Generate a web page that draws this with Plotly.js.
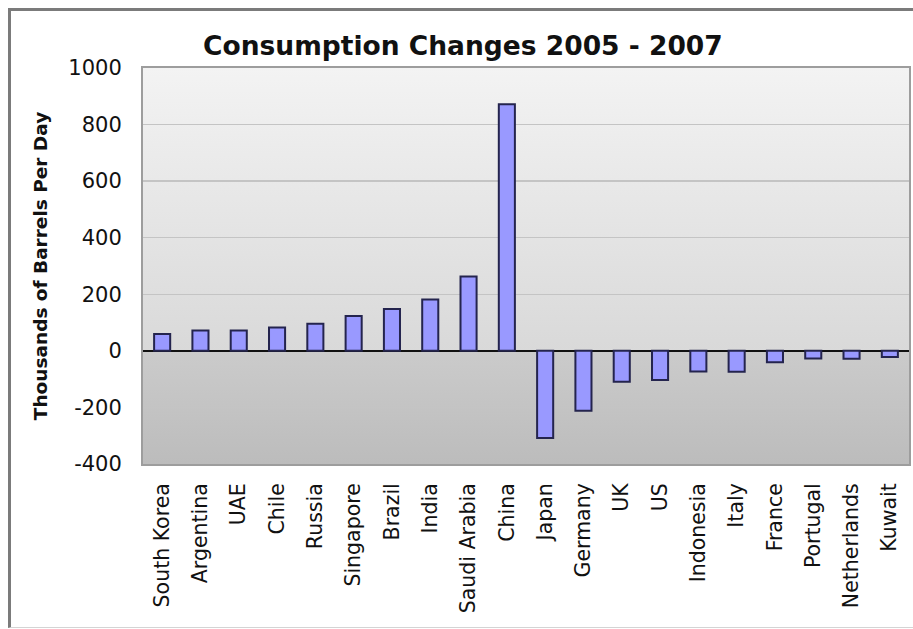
<!DOCTYPE html>
<html>
<head>
<meta charset="utf-8">
<script src="https://cdn.plot.ly/plotly-3.0.1.min.js"></script>
<style>
  html, body { margin: 0; padding: 0; background: #ffffff; }
  #frame {
    position: absolute; left: 8px; top: 8px; width: 905px; height: 620px;
    box-sizing: border-box;
    border-left: 3px solid #7b7b7b; border-top: 3px solid #7b7b7b;
    border-bottom: 1px solid #d4d4d4;
  }
  #chart { position: absolute; left: 0; top: 0; width: 913px; height: 629px; }
</style>
</head>
<body>
<div id="frame"></div>
<div id="chart"></div>
<script>
// Change in oil consumption, 2005 to 2007 (thousands of barrels per day)
const countries = [
  "South Korea", "Argentina", "UAE", "Chile", "Russia", "Singapore", "Brazil",
  "India", "Saudi Arabia", "China", "Japan", "Germany", "UK", "US",
  "Indonesia", "Italy", "France", "Portugal", "Netherlands", "Kuwait"
];
const changes = [
  60, 72, 72, 83, 96, 123, 148, 182, 263, 872,
  -308, -212, -109, -103, -73, -74, -40, -27, -28, -22
];
const yTickValues = [-400, -200, 0, 200, 400, 600, 800, 1000];
const yRange = [-400, 1000];

// Vertical gradient used as a plot-area backdrop
function gradient(topColor, bottomColor) {
  const svg =
    "<svg xmlns='http://www.w3.org/2000/svg' width='10' height='100' viewBox='0 0 10 100' preserveAspectRatio='none'>" +
    "<defs><linearGradient id='g' x1='0' y1='0' x2='0' y2='1'>" +
    "<stop offset='0' stop-color='" + topColor + "'/>" +
    "<stop offset='1' stop-color='" + bottomColor + "'/>" +
    "</linearGradient></defs>" +
    "<rect x='0' y='0' width='10' height='100' fill='url(#g)'/></svg>";
  return "data:image/svg+xml;base64," + btoa(svg);
}

const trace = {
  type: "bar",
  x: countries,
  y: changes,
  width: 0.42,
  marker: { color: "#9999ff", line: { color: "#24244e", width: 2 } },
  hoverinfo: "x+y"
};

const layout = {
  width: 913,
  height: 629,
  margin: { l: 143, r: 4, t: 68, b: 165 },
  paper_bgcolor: "rgba(0,0,0,0)",
  plot_bgcolor: "#d8d8d8",
  showlegend: false,
  title: {
    text: "Consumption Changes 2005 - 2007",
    font: { family: "DejaVu Sans", size: 26.5, color: "#111111", weight: "bold" },
    xref: "container", x: 0.507, xanchor: "center",
    yref: "container", y: 0.928, yanchor: "middle"
  },
  xaxis: {
    type: "category",
    tickangle: -90,
    ticks: "",
    ticklabelstandoff: 9,
    tickfont: { family: "DejaVu Sans", size: 20.5, color: "#111111" },
    showline: true, mirror: true, linecolor: "#9d9d9d", linewidth: 2,
    showgrid: false,
    fixedrange: true
  },
  yaxis: {
    range: yRange,
    tickvals: yTickValues,
    ticktext: yTickValues.map(String),
    ticks: "",
    ticklabelstandoff: 15,
    tickfont: { family: "DejaVu Sans", size: 21, color: "#111111" },
    showline: true, mirror: true, linecolor: "#9d9d9d", linewidth: 2,
    showgrid: true, gridcolor: "#c4c4c4", gridwidth: 1.5,
    zeroline: true, zerolinecolor: "#111111", zerolinewidth: 2,
    title: {
      text: "Thousands of Barrels Per Day",
      font: { family: "DejaVu Sans", size: 18.5, color: "#111111", weight: "bold" },
      standoff: 16
    },
    fixedrange: true
  },
  images: [
    {
      source: gradient("#f3f3f3", "#d9d9d9"),
      xref: "paper", yref: "y", x: 0, y: yRange[1], sizex: 1, sizey: yRange[1],
      xanchor: "left", yanchor: "top", sizing: "stretch", layer: "below"
    },
    {
      source: gradient("#cbcbcb", "#bcbcbc"),
      xref: "paper", yref: "y", x: 0, y: 0, sizex: 1, sizey: -yRange[0],
      xanchor: "left", yanchor: "top", sizing: "stretch", layer: "below"
    }
  ]
};

Plotly.newPlot("chart", [trace], layout, { displayModeBar: false, staticPlot: true });
</script>
</body>
</html>
